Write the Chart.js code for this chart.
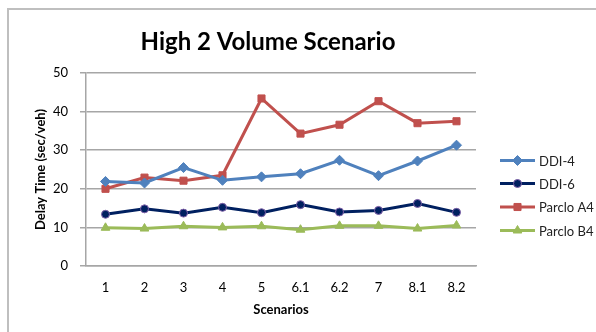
<!DOCTYPE html>
<html>
<head>
<meta charset="utf-8">
<script src="https://cdn.jsdelivr.net/npm/chart.js@4.4.1/dist/chart.umd.min.js"></script>
<style>
  html, body { margin: 0; padding: 0; background: #fff; }
  #wrap { width: 596px; height: 332px; position: relative; }
</style>
</head>
<body>
<div id="wrap"><canvas id="c" width="596" height="332"></canvas></div>
<script>
// Scenario labels along the x axis
const scenarios = ['1', '2', '3', '4', '5', '6.1', '6.2', '7', '8.1', '8.2'];

// Delay time (sec/veh) per interchange design
const ddi4     = [21.9, 21.5, 25.5, 22.2, 23.1, 23.9, 27.4, 23.4, 27.2, 31.3];
const ddi6     = [13.4, 14.8, 13.7, 15.2, 13.8, 15.9, 14.0, 14.4, 16.2, 13.9];
const parcloA4 = [20.0, 22.9, 22.1, 23.5, 43.4, 34.3, 36.6, 42.7, 37.0, 37.5];
const parcloB4 = [9.9, 9.7, 10.3, 10.0, 10.3, 9.4, 10.4, 10.4, 9.7, 10.5];

const yTicks = [0, 10, 20, 30, 40, 50];

const FONT = 'Lato, "Open Sans", sans-serif';

// Outer frame and the centered chart title
const framePlugin = {
  id: 'frame',
  beforeDraw(chart) {
    const ctx = chart.ctx;
    ctx.save();
    ctx.fillStyle = '#fff';
    ctx.fillRect(0, 0, chart.width, chart.height);
    ctx.strokeStyle = '#bfbfbf';
    ctx.lineWidth = 2;
    ctx.beginPath();
    ctx.moveTo(8, chart.height + 5);
    ctx.lineTo(8, 9);
    ctx.lineTo(chart.width + 5, 9);
    ctx.stroke();
    ctx.fillStyle = '#000';
    ctx.font = 'bold 24px ' + FONT;
    ctx.textAlign = 'center';
    ctx.textBaseline = 'middle';
    ctx.fillText('High 2 Volume Scenario', 268, 42);
    ctx.restore();
  }
};

// Legend on the right, built from the dataset styles
const legendPlugin = {
  id: 'sideLegend',
  afterDraw(chart) {
    const ctx = chart.ctx;
    const x0 = 500, x1 = 535, tx = 539;
    const ys = [160.5, 183.5, 207, 230.5];
    ctx.save();
    chart.data.datasets.forEach((ds, i) => {
      const y = ys[i];
      ctx.strokeStyle = ds.borderColor;
      ctx.lineWidth = 3;
      ctx.beginPath();
      ctx.moveTo(x0, y);
      ctx.lineTo(x1, y);
      ctx.stroke();
      ctx.fillStyle = ds.pointBackgroundColor;
      ctx.strokeStyle = ds.pointBorderColor;
      ctx.lineWidth = ds.pointBorderWidth;
      Chart.helpers.drawPoint(ctx, {
        pointStyle: ds.pointStyle,
        radius: ds.pointRadius,
        borderWidth: ds.pointBorderWidth
      }, (x0 + x1) / 2, y);
      ctx.fillStyle = '#222';
      ctx.font = '13px ' + FONT;
      ctx.textAlign = 'left';
      ctx.textBaseline = 'middle';
      ctx.fillText(ds.label, tx, y + 1);
    });
    ctx.restore();
  }
};

function series(label, data, color, style, radius, ptBorder) {
  return {
    label, data,
    borderColor: color,
    backgroundColor: color,
    borderWidth: 3,
    pointStyle: style,
    pointRadius: radius,
    pointHoverRadius: radius,
    pointBackgroundColor: color,
    pointBorderColor: ptBorder || color,
    pointBorderWidth: 1,
    tension: 0
  };
}

new Chart(document.getElementById('c'), {
  type: 'line',
  data: {
    labels: scenarios,
    datasets: [
      series('DDI-4', ddi4, '#4f81bd', 'rectRot', 5),
      series('DDI-6', ddi6, '#002060', 'circle', 4, '#7f5fa8'),
      series('Parclo A4', parcloA4, '#c0504d', 'rect', 5),
      series('Parclo B4', parcloB4, '#9bbb59', 'triangle', 5)
    ]
  },
  options: {
    responsive: false,
    animation: false,
    devicePixelRatio: 1,
    layout: { padding: { left: 0, right: 120, top: 73, bottom: 0 } },
    plugins: {
      legend: { display: false },
      title: { display: false },
      tooltip: { enabled: false }
    },
    scales: {
      x: {
        offset: true,
        grid: { display: false, drawTicks: false },
        border: { display: true, color: '#a6a6a6', width: 1.5 },
        ticks: { color: '#000', font: { family: FONT, size: 13 }, padding: 14, maxRotation: 0 },
        title: {
          display: true, text: 'Scenarios', color: '#000',
          font: { family: FONT, size: 13, weight: 'bold' },
          padding: { top: 4, bottom: 14 }
        },
        afterFit(scale) { scale.height = 66; }
      },
      y: {
        min: 0, max: 50,
        afterBuildTicks(scale) { scale.ticks = yTicks.map(v => ({ value: v })); },
        grid: { color: '#a6a6a6', lineWidth: 1.5, tickLength: 6 },
        border: { display: true, color: '#a6a6a6', width: 1.5 },
        ticks: { color: '#000', font: { family: FONT, size: 13 }, padding: 12 },
        title: {
          display: true, text: 'Delay Time (sec/veh)', color: '#000',
          font: { family: FONT, size: 13, weight: 'bold' },
          padding: { top: 33, bottom: 0 }
        },
        afterFit(scale) { scale.width = 86; }
      }
    }
  },
  plugins: [framePlugin, legendPlugin]
});
</script>
</body>
</html>
